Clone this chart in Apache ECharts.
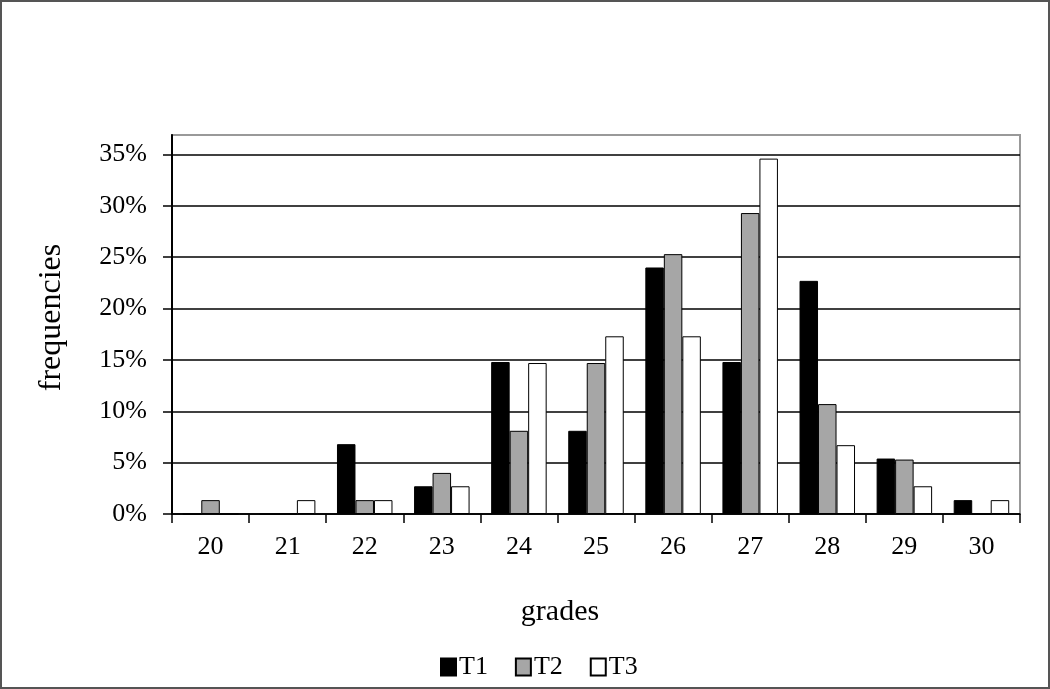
<!DOCTYPE html>
<html>
<head>
<meta charset="utf-8">
<script src="https://cdn.jsdelivr.net/npm/echarts@6/dist/echarts.min.js"></script>
<style>
html, body { margin: 0; padding: 0; background: #fff; }
#main { width: 1050px; height: 689px; box-sizing: border-box; border: 2px solid #555; }
</style>
</head>
<body>
<div id="main"></div>
<script>
// grades on the x axis
var grades = ['20', '21', '22', '23', '24', '25', '26', '27', '28', '29', '30'];
// frequencies (fraction) per test
var t1 = [0, 0, 0.068, 0.027, 0.148, 0.081, 0.240, 0.148, 0.227, 0.054, 0.0135];
var t2 = [0.0135, 0, 0.0135, 0.040, 0.081, 0.147, 0.253, 0.293, 0.107, 0.053, 0];
var t3 = [0, 0.0135, 0.0135, 0.027, 0.147, 0.173, 0.173, 0.346, 0.067, 0.027, 0.0135];

var serif = '"Liberation Serif", "DejaVu Serif", serif';

var dom = document.getElementById('main');
var myChart = echarts.init(dom);

function barSeries(name, data, fill) {
	return {
		name: name,
		type: 'bar',
		data: data,
		barGap: '0%',
		barCategoryGap: '28%',
		itemStyle: {
			color: fill,
			borderColor: '#000',
			borderWidth: 1
		}
	};
}

var option = {
	backgroundColor: '#fff',
	animation: false,
	textStyle: { fontFamily: serif },
	grid: {
		left: 170,
		right: 28,
		top: 133,
		bottom: 173,
		show: true,
		borderColor: '#999',
		borderWidth: 2,
		containLabel: false
	},
	legend: {
		bottom: 2,
		left: 433,
		itemWidth: 15,
		itemHeight: 17,
		itemGap: 27,
		icon: 'rect',
		textStyle: { fontFamily: serif, fontSize: 26, color: '#000', padding: [0, 0, 0, -2] },
		data: ['T1', 'T2', 'T3']
	},
	xAxis: {
		type: 'category',
		data: grades,
		name: 'grades',
		nameLocation: 'middle',
		nameGap: 83,
		nameTextStyle: { fontFamily: serif, fontSize: 30, color: '#000', padding: [0, 72, 0, 0] },
		axisLine: { lineStyle: { color: '#000', width: 1.5 } },
		axisTick: { show: true, length: 9, lineStyle: { color: '#000', width: 1.5 } },
		axisLabel: { margin: 20, fontFamily: serif, fontSize: 26, color: '#000' }
	},
	yAxis: {
		type: 'value',
		min: 0,
		max: 0.369,
		interval: 0.05,
		name: 'frequencies',
		nameLocation: 'middle',
		nameGap: 104,
		nameTextStyle: { fontFamily: serif, fontSize: 32, color: '#000', padding: [0, 0, 0, 14] },
		axisLine: { show: true, lineStyle: { color: '#000', width: 2 } },
		axisTick: { show: true, length: 9, lineStyle: { color: '#000', width: 1.5 } },
		axisLabel: {
			margin: 25,
			fontFamily: serif,
			fontSize: 26,
			color: '#000',
			showMaxLabel: false,
			formatter: function (v) { return Math.round(v * 100) + '%'; }
		},
		splitLine: { show: true, showMaxLine: false, lineStyle: { color: '#000', width: 1.5 } }
	},
	series: [
		barSeries('T1', t1, '#000'),
		barSeries('T2', t2, '#a6a6a6'),
		barSeries('T3', t3, '#fff')
	]
};

myChart.setOption(option, true);
</script>
</body>
</html>
